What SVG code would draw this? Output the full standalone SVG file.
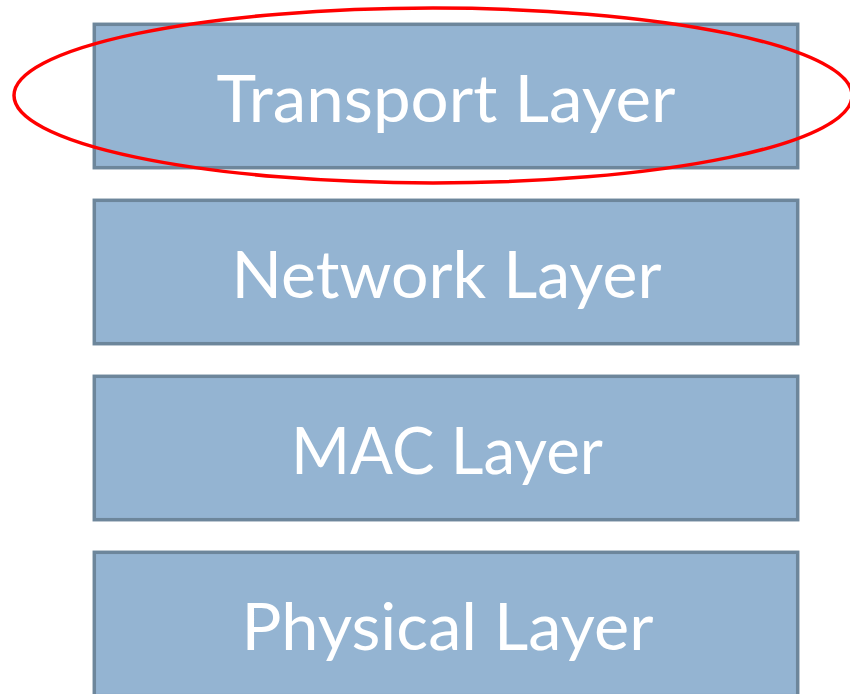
<svg xmlns="http://www.w3.org/2000/svg" width="850" height="694" viewBox="0 0 850 694">
<style>
.box{fill:#94B4D2;stroke:#6D869B;stroke-width:3.5}
.lbl{font-family:Lato,"Open Sans","Liberation Sans",sans-serif;font-size:65px;font-weight:400;fill:#FFFFFF;text-anchor:middle}
.hl{fill:none;stroke:#FF0000;stroke-width:3.5}
</style>
<rect width="850" height="694" fill="#FFFFFF"/>
<g id="transport">
<rect class="box" x="94.3" y="24.3" width="703.4" height="143.4"/>
<text class="lbl" x="446" y="122" textLength="459" lengthAdjust="spacingAndGlyphs">Transport Layer</text>
</g>
<g id="network">
<rect class="box" x="94.3" y="200.3" width="703.4" height="143.4"/>
<text class="lbl" x="446.5" y="298" textLength="430" lengthAdjust="spacingAndGlyphs">Network Layer</text>
</g>
<g id="mac">
<rect class="box" x="94.3" y="376.3" width="703.4" height="143.4"/>
<text class="lbl" x="447" y="473.5" textLength="312" lengthAdjust="spacingAndGlyphs">MAC Layer</text>
</g>
<g id="physical">
<rect class="box" x="94.3" y="552.3" width="703.4" height="143.4"/>
<text class="lbl" x="447.5" y="650" textLength="412" lengthAdjust="spacingAndGlyphs">Physical Layer</text>
</g>
<g id="highlight">
<ellipse class="hl" cx="433" cy="95.5" rx="419" ry="87.5"/>
</g>
</svg>
